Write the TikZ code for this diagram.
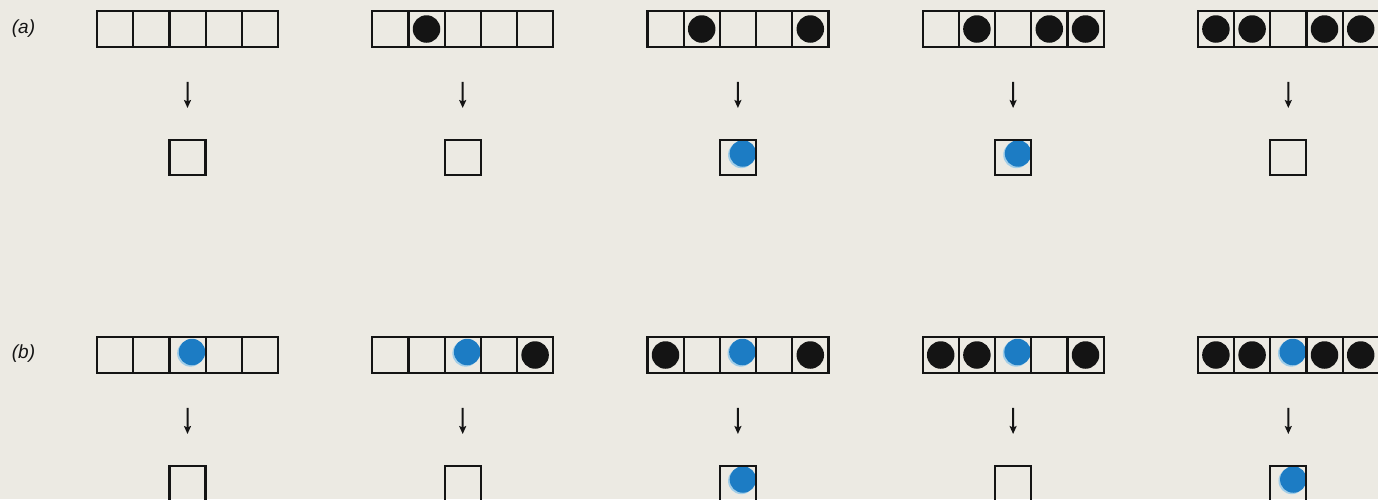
\documentclass[tikz,border=0pt]{standalone}
\usepackage{fontspec}
\setsansfont{Liberation Sans}
\usetikzlibrary{arrows.meta}
\definecolor{paper}{RGB}{236,234,227}
\definecolor{dotblue}{RGB}{28,124,196}
\definecolor{halo}{RGB}{160,205,232}
\definecolor{ink}{RGB}{20,20,20}
\pgfdeclarelayer{paperlayer}
\pgfdeclarelayer{dots}
\pgfsetlayers{paperlayer,dots,main}
\tikzset{
 cell/.style={draw=ink, line width=2.2pt, minimum width=36.2pt, minimum height=35.5pt, inner sep=0pt, outer sep=0pt},
 outbox/.style={cell, minimum width=36pt, minimum height=35pt},
 bdot/.style={circle, fill=ink, minimum size=27.5pt, inner sep=0pt},
 udot/.style={circle, fill=dotblue, minimum size=26.5pt, inner sep=0pt,
   preaction={fill=halo, transform canvas={xshift=-1.6pt,yshift=-1.4pt}}},
 arr/.style={draw=ink, line width=2pt, -{Stealth[length=8pt,width=7pt,inset=1.5pt]}, shorten <=35pt, shorten >=32pt},
 lab/.style={font=\sffamily\itshape\fontsize{19}{19}\selectfont, text=ink, inner sep=0pt}
}
\begin{document}
\begin{tikzpicture}[x=1pt,y=-1pt]
\begin{pgfonlayer}{paperlayer}
\fill[paper] (0,0) rectangle (1378,499);
\end{pgfonlayer}
\useasboundingbox (0,0) rectangle (1378,499);
\node[lab] (la) at (23.5,29) {(a)};
\node[lab] (lb) at (23.5,354) {(b)};
\foreach \r/\i/\ry/\bl/\o/\mid in {
  a/1/29/{0}/0/0, a/2/29/{2}/0/0, a/3/29/{2,5}/1/0, a/4/29/{2,4,5}/1/0, a/5/29/{1,2,4,5}/0/0,
  b/1/355/{0}/0/1, b/2/355/{5}/0/1, b/3/355/{1,5}/1/1, b/4/355/{1,2,5}/0/1, b/5/355/{1,2,4,5}/1/1} {
  \pgfmathsetmacro{\sx}{97+275.2*(\i-1)}
  \foreach \j in {1,...,5} {
    \node[cell] (\r\i c\j) at ({\sx+36.2*(\j-0.5)},\ry) {};
  }
  \node[outbox] (\r\i o) at ({\sx+90.5},{\ry+128.5}) {};
  \draw[arr] (\r\i c3.south) -- (\r\i o.north);
  \begin{pgfonlayer}{dots}
  \foreach \j in \bl {
    \ifnum\j>0 \node[bdot] (\r\i d\j) at (\r\i c\j) {}; \fi
  }
  \ifnum\mid=1
    \node[udot] (\r\i u) at ([xshift=4.5pt,yshift=3pt]\r\i c3.center) {};
  \fi
  \ifnum\o=1
    \node[udot] (\r\i ou) at ([xshift=5pt,yshift=4pt]\r\i o.center) {};
  \fi
  \end{pgfonlayer}
}
\end{tikzpicture}
\end{document}
